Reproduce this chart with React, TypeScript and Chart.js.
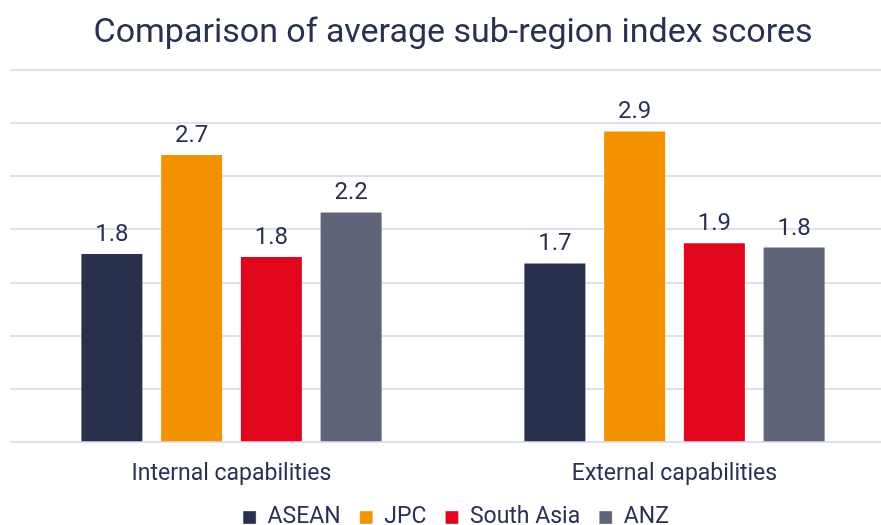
import React, { useEffect, useRef } from "react";
import { Chart, registerables } from "chart.js";

Chart.register(...registerables);

const categories = ["Internal capabilities", "External capabilities"];
const seriesNames = ["ASEAN", "JPC", "South Asia", "ANZ"];
const aseanValues = [1.78, 1.69];
const jpcValues = [2.71, 2.93];
const southAsiaValues = [1.75, 1.88];
const anzValues = [2.17, 1.84];
const seriesColors = ["#29304d", "#f39200", "#e2061d", "#5f6478"];
const titleText = "Comparison of average sub-region index scores";
const textColor = "#2a3150";

const valueLabels = {
  id: "valueLabels",
  afterDatasetsDraw(chart: any) {
    const ctx = chart.ctx;
    ctx.save();
    ctx.font = "24px Roboto";
    ctx.fillStyle = textColor;
    ctx.textAlign = "center";
    ctx.textBaseline = "alphabetic";
    chart.data.datasets.forEach((ds: any, i: number) => {
      const meta = chart.getDatasetMeta(i);
      meta.data.forEach((bar: any, j: number) => {
        ctx.fillText(Number(ds.data[j]).toFixed(1), bar.x, bar.y - 12);
      });
    });
    ctx.restore();
  },
};

const legendShift = {
  id: "legendShift",
  afterLayout(chart: any) {
    const lg = chart.legend;
    if (lg) {
      lg.top -= 19;
      lg.bottom -= 19;
      lg.left += 3;
      lg.right += 3;
    }
  },
};

export default function App() {
  const ref = useRef<HTMLCanvasElement | null>(null);
  useEffect(() => {
    if (!ref.current) return;
    const allValues = [aseanValues, jpcValues, southAsiaValues, anzValues];
    const chart = new Chart(ref.current, {
      type: "bar",
      data: {
        labels: categories,
        datasets: seriesNames.map((name, i) => ({
          label: name,
          data: allValues[i],
          backgroundColor: seriesColors[i],
          borderColor: "rgba(255,255,255,0.35)",
          borderWidth: 1,
          barPercentage: 0.79,
          categoryPercentage: 0.72,
        })),
      },
      options: {
        animation: false,
        responsive: false,
        layout: { padding: { left: 10, right: 10, top: 0, bottom: 0 } },
        plugins: {
          title: {
            display: true,
            text: titleText,
            color: textColor,
            font: { family: "Roboto", size: 34, weight: "normal" },
            padding: { top: 13, bottom: 16 },
          },
          legend: {
            position: "bottom",
            labels: {
              color: textColor,
              font: { family: "Roboto", size: 23 },
              boxWidth: 13,
              boxHeight: 13,
              padding: 19,
            },
          },
          tooltip: { enabled: false },
        },
        scales: {
          x: {
            grid: { display: false, drawTicks: false },
            border: { display: false },
            ticks: { color: textColor, font: { family: "Roboto", size: 23 }, padding: 18 },
          },
          y: {
            min: 0,
            max: 3.5,
            ticks: { display: false, stepSize: 0.5 },
            border: { display: false },
            grid: { color: "#dde0ee", lineWidth: 2, drawTicks: false },
          },
        },
      },
      plugins: [valueLabels, legendShift],
    });
    return () => chart.destroy();
  }, []);
  return (
    <div style={{ position: "fixed", left: 0, top: 0, width: 881, height: 525, overflow: "hidden", background: "#fff" }}>
      <canvas ref={ref} width={906} height={558} style={{ width: 906, height: 558, display: "block" }} />
    </div>
  );
}
